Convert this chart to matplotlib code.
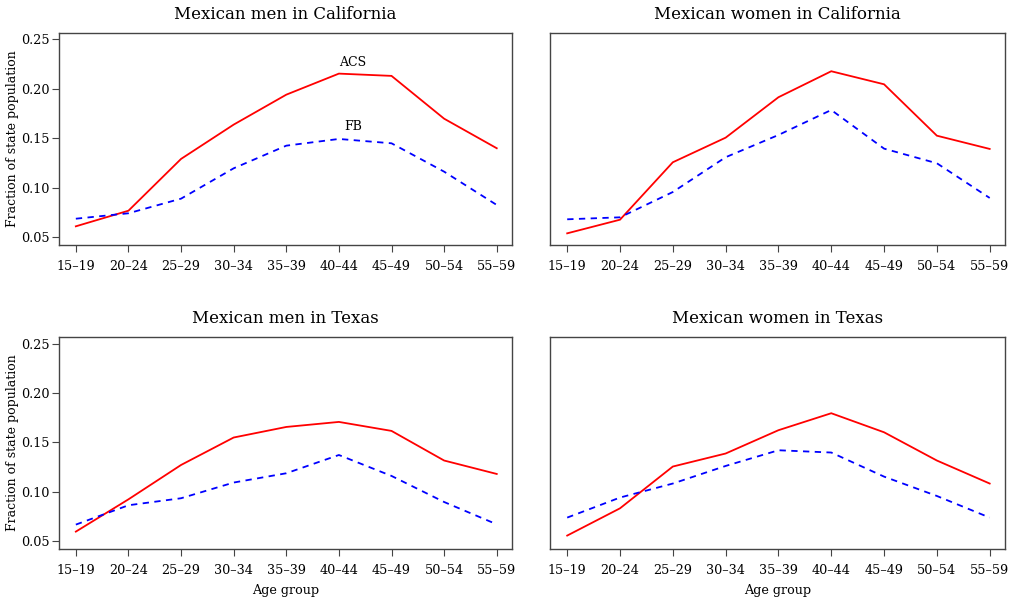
import matplotlib
matplotlib.use("Agg")
import matplotlib.pyplot as plt

age_groups = ["15–19", "20–24", "25–29", "30–34", "35–39", "40–44", "45–49", "50–54", "55–59"]

titles = ["Mexican men in California", "Mexican women in California",
          "Mexican men in Texas", "Mexican women in Texas"]

acs_ca_men = [0.0608, 0.0766, 0.129, 0.1637, 0.194, 0.2153, 0.213, 0.1697, 0.1398]
fb_ca_men = [0.0685, 0.074, 0.0888, 0.1195, 0.1424, 0.1492, 0.1448, 0.1161, 0.0824]

acs_ca_women = [0.0537, 0.0675, 0.1256, 0.1505, 0.1914, 0.2177, 0.2045, 0.1525, 0.1391]
fb_ca_women = [0.0679, 0.0699, 0.0955, 0.1307, 0.1532, 0.1785, 0.1394, 0.1246, 0.0895]

acs_tx_men = [0.0595, 0.0922, 0.127, 0.1548, 0.1655, 0.1706, 0.1615, 0.1315, 0.1179]
fb_tx_men = [0.0666, 0.0862, 0.0933, 0.1092, 0.1186, 0.1371, 0.1159, 0.0895, 0.0669]

acs_tx_women = [0.0555, 0.0831, 0.1254, 0.1386, 0.1622, 0.1794, 0.1601, 0.1315, 0.1082]
fb_tx_women = [0.0737, 0.094, 0.1082, 0.126, 0.1419, 0.1396, 0.1152, 0.0956, 0.0737]

acs_series = [acs_ca_men, acs_ca_women, acs_tx_men, acs_tx_women]
fb_series = [fb_ca_men, fb_ca_women, fb_tx_men, fb_tx_women]

yticks = [0.05, 0.10, 0.15, 0.20, 0.25]

plt.rcParams['font.family'] = ['DejaVu Serif']

fig = plt.figure(figsize=(10.14, 6.03), dpi=100)
W, H = 1014, 603
boxes = [
    (59, 32.5, 512, 245),
    (550.3, 32.5, 1005, 245),
    (59, 336.7, 512, 549),
    (550.3, 336.7, 1005, 549),
]
x = list(range(len(age_groups)))
for i, (l, t, r, b) in enumerate(boxes):
    ax = fig.add_axes([l / W, 1 - b / H, (r - l) / W, (b - t) / H])
    ax.plot(x, acs_series[i], color='#ff0000', lw=1.3, solid_joinstyle='miter')
    ax.plot(x, fb_series[i], color='#0000ff', lw=1.3, linestyle=(0, (3.5, 3)))
    ax.set_xlim(-0.32, 8.29)
    ax.set_ylim(0.0419, 0.2569)
    ax.set_xticks(x)
    ax.set_xticklabels(age_groups, fontsize=9.2)
    ax.set_title(titles[i], fontsize=12, pad=10)
    for s in ax.spines.values():
        s.set_color('#444444')
        s.set_linewidth(1.0)
    ax.tick_params(axis='x', direction='out', length=5, width=0.8, color='#444444', pad=6)
    if i % 2 == 0:
        ax.set_yticks(yticks)
        ax.set_yticklabels([f"{v:.2f}" for v in yticks], fontsize=9.2)
        ax.tick_params(axis='y', direction='out', length=5, width=0.8, color='#444444', pad=2)
        ax.set_ylabel("Fraction of state population", fontsize=9, labelpad=1)
    else:
        ax.set_yticks([])
    if i >= 2:
        ax.set_xlabel("Age group", fontsize=9.2, labelpad=5)
    if i == 0:
        ax.text(5.27, 0.227, "ACS", ha='center', va='center', fontsize=9)
        ax.text(5.27, 0.1616, "FB", ha='center', va='center', fontsize=9)

fig.savefig("out.png", dpi=100)
